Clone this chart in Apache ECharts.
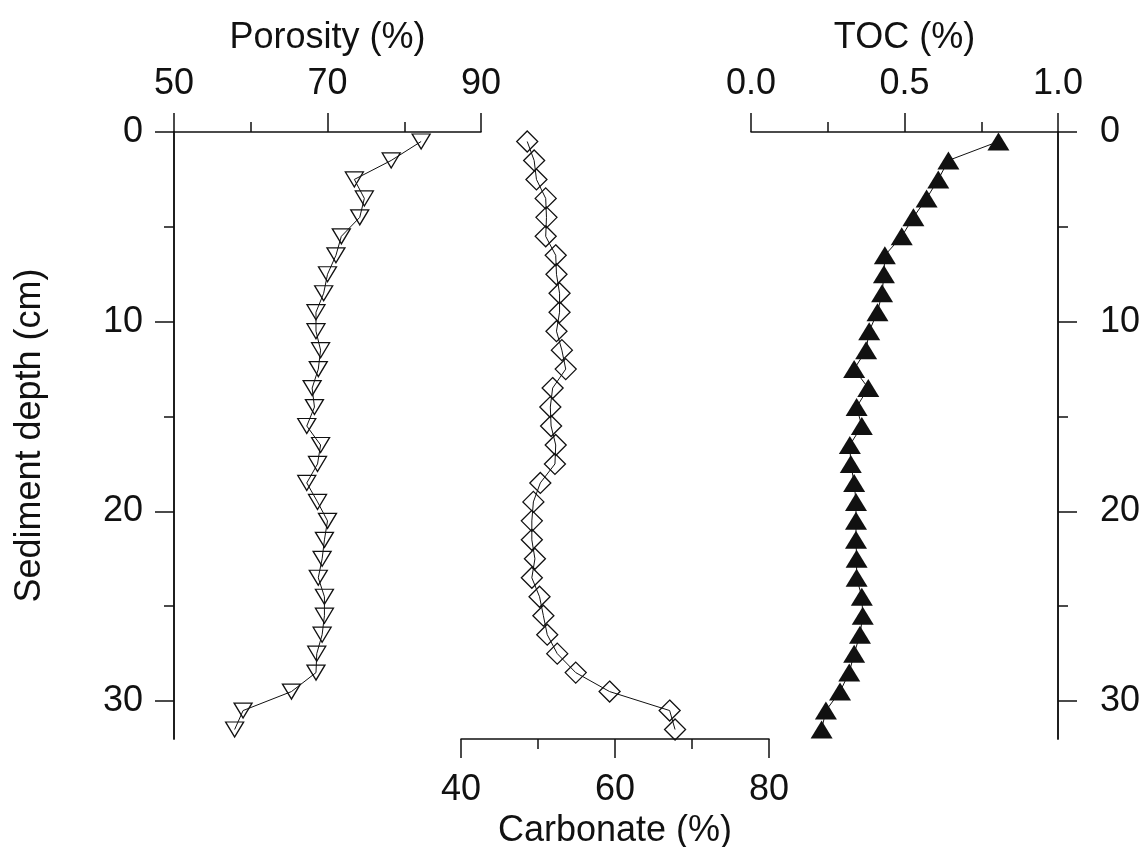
<!DOCTYPE html>
<html>
<head>
<meta charset="utf-8">
<title>Sediment profiles</title>
<script src="https://cdn.jsdelivr.net/npm/echarts@6/dist/echarts.min.js"></script>
<style>
  html, body { margin: 0; padding: 0; background: #fff; }
  #chart { width: 1142px; height: 847px; }
</style>
</head>
<body>
<div id="chart"></div>
<script>
// depth of each sample (cm)
const depth = [0.5, 1.5, 2.5, 3.5, 4.5, 5.5, 6.5, 7.5, 8.5, 9.5, 10.5, 11.5, 12.5, 13.5, 14.5, 15.5,
  16.5, 17.5, 18.5, 19.5, 20.5, 21.5, 22.5, 23.5, 24.5, 25.5, 26.5, 27.5, 28.5, 29.5, 30.5, 31.5]

const porosity = [82.2, 78.3, 73.5, 74.8, 74.2, 71.8, 71.1, 70.0, 69.5, 68.5, 68.5, 69.1, 68.8, 68.0, 68.3, 67.3,
  69.1, 68.7, 67.3, 68.7, 70.0, 69.6, 69.3, 68.8, 69.6, 69.6, 69.3, 68.6, 68.5, 65.3, 59.0, 57.9]

const carbonate = [48.6, 49.5, 49.8, 51.0, 51.1, 51.0, 52.3, 52.4, 52.8, 52.8, 52.4, 53.1, 53.6, 51.9, 51.6, 51.7,
  52.3, 52.2, 50.3, 49.4, 49.2, 49.2, 49.6, 49.2, 50.2, 50.7, 51.2, 52.5, 54.9, 59.3, 67.1, 67.8]

const toc = [0.806, 0.643, 0.610, 0.572, 0.529, 0.491, 0.436, 0.433, 0.427, 0.412, 0.385, 0.375, 0.336, 0.382, 0.344, 0.361,
  0.322, 0.325, 0.336, 0.342, 0.342, 0.342, 0.344, 0.344, 0.361, 0.364, 0.355, 0.336, 0.320, 0.290, 0.244, 0.230]

const depthMajor = [0, 10, 20, 30]
const depthMinor = [5, 15, 25]

const font = 'Liberation Sans, Arial, sans-serif'
const ink = '#111'
const lineW = 1.5

const axisLine = { show: true, onZero: false, lineStyle: { color: ink, width: lineW } }
const tick = { show: true, length: 19, lineStyle: { color: ink, width: lineW } }
const minor = { show: true, splitNumber: 2, length: 10, lineStyle: { color: ink, width: lineW } }
const label = (margin) => ({ color: ink, fontSize: 36, fontFamily: font, margin })
const nameStyle = { color: ink, fontSize: 36, fontFamily: font }

function xAxis(gridIndex, position, min, max, interval, name, fmt) {
  const top = position === 'top'
  return {
    type: 'value', gridIndex, position, min, max, interval,
    name, nameLocation: 'middle', nameGap: top ? 76 : 69,
    nameTextStyle: nameStyle,
    axisLine, axisTick: tick, minorTick: minor,
    splitLine: { show: false },
    axisLabel: { ...label(top ? 30 : 33), formatter: fmt },
  }
}

// depth axis: one for major ticks + labels, one for the short ticks
function depthAxes(gridIndex, position, margin, name) {
  return [
    {
      type: 'value', gridIndex, position, inverse: true, min: 0, max: 32,
      name, nameLocation: 'middle', nameGap: 126, nameTextStyle: nameStyle,
      axisLine,
      axisTick: { ...tick, customValues: depthMajor },
      axisLabel: { ...label(margin), customValues: depthMajor },
      splitLine: { show: false },
    },
    {
      type: 'value', gridIndex, position, inverse: true, min: 0, max: 32,
      axisLine,
      axisTick: { ...tick, length: 10, customValues: depthMinor },
      axisLabel: { show: false },
      splitLine: { show: false },
    },
  ]
}

const pairs = (vals) => vals.map((v, i) => [v, depth[i]])

const chart = echarts.init(document.getElementById('chart'), null, { renderer: 'canvas' })

// fixed panel positions, no auto shrinking for labels
const panel = (left, width) => ({ left, width, top: 132, height: 607, containLabel: false, outerBoundsMode: 'none' })

chart.setOption({
  backgroundColor: '#fff',
  animation: false,
  grid: [panel(174, 307), panel(461, 308), panel(751, 307)],
  xAxis: [
    xAxis(0, 'top', 50, 90, 20, 'Porosity (%)'),
    xAxis(1, 'bottom', 40, 80, 20, 'Carbonate (%)'),
    xAxis(2, 'top', 0, 1, 0.5, 'TOC (%)', (v) => v.toFixed(1)),
  ],
  yAxis: [
    ...depthAxes(0, 'left', 31, 'Sediment depth (cm)'),
    { type: 'value', gridIndex: 1, inverse: true, min: 0, max: 32, show: false },
    ...depthAxes(2, 'right', 42, ''),
  ],
  series: [
    {
      name: 'Porosity', type: 'line', xAxisIndex: 0, yAxisIndex: 0,
      data: pairs(porosity),
      symbol: 'triangle', symbolRotate: 180, symbolSize: [18, 15],
      lineStyle: { color: ink, width: 1 },
      itemStyle: { color: 'rgba(255,255,255,0)', borderColor: ink, borderWidth: 1.3 },
    },
    {
      name: 'Carbonate', type: 'line', xAxisIndex: 1, yAxisIndex: 2,
      data: pairs(carbonate),
      symbol: 'diamond', symbolSize: [21, 21],
      lineStyle: { color: ink, width: 1 },
      itemStyle: { color: 'rgba(255,255,255,0)', borderColor: ink, borderWidth: 1.3 },
    },
    {
      name: 'TOC', type: 'line', xAxisIndex: 2, yAxisIndex: 3,
      data: pairs(toc),
      symbol: 'triangle', symbolSize: [22, 18],
      lineStyle: { color: ink, width: 1 },
      itemStyle: { color: ink },
    },
  ],
})
</script>
</body>
</html>
